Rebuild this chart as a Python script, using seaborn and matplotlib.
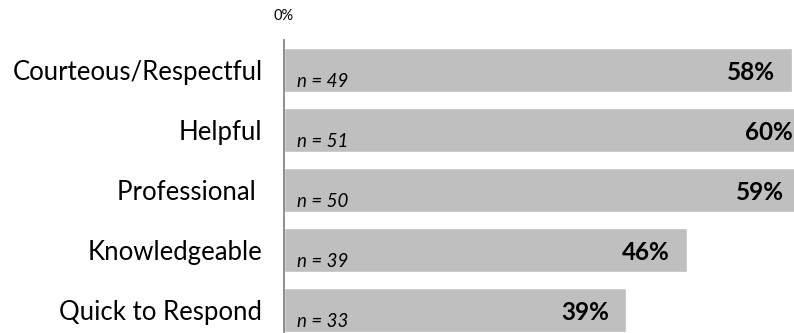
import matplotlib
matplotlib.use("Agg")
import matplotlib.pyplot as plt
import seaborn as sns
import pandas as pd

categories = ["Courteous/Respectful", "Helpful", "Professional ", "Knowledgeable", "Quick to Respond"]
values = [58, 60, 59, 46, 39]
n_labels = ["n = 49", "n = 51", "n = 50", "n = 39", "n = 33"]
value_labels = ["58%", "60%", "59%", "46%", "39%"]

sns.set_theme(style="white")
plt.rcParams["font.family"] = ["Lato", "DejaVu Sans"]

df = pd.DataFrame({"category": categories, "value": values})

W, H = 794, 333
fig = plt.figure(figsize=(W / 100, H / 100), dpi=100)
ax = fig.add_axes([284 / W, 0, 1 - 284 / W, 1 - 40 / H])

sns.barplot(data=df, y="category", x="value", orient="h", color="#BFBFBF",
            width=0.733, saturation=1, ax=ax, order=categories)

ax.set_xlim(0, 58.2)
ax.set_ylim(-0.5 + 293 / 60, -0.5)

ax.set_xlabel("")
ax.set_ylabel("")
for s in ["top", "right", "bottom"]:
    ax.spines[s].set_visible(False)
ax.spines["left"].set_color("#868686")
ax.spines["left"].set_linewidth(1.3)

ax.xaxis.tick_top()
ax.set_xticks([0])
ax.set_xticklabels(["0%"], fontsize=10.5, color="#000000")
ax.tick_params(axis="x", length=0, pad=12)
ax.tick_params(axis="y", length=0, pad=15.5)
for lbl in ax.get_yticklabels():
    lbl.set_fontsize(18.5)
    lbl.set_color("#000000")

for i, (v, nl, vl) in enumerate(zip(values, n_labels, value_labels)):
    ax.annotate(nl, xy=(0, i), xytext=(13, -17), textcoords="offset pixels",
                ha="left", va="baseline", fontsize=13.5, style="italic",
                color="#000000", annotation_clip=False)
    ax.annotate(vl, xy=(v, i), xytext=(-17, -3), textcoords="offset pixels",
                ha="right", va="center", fontsize=17.5, fontweight="bold",
                color="#000000", annotation_clip=False)

fig.savefig("out.png", dpi=100)
